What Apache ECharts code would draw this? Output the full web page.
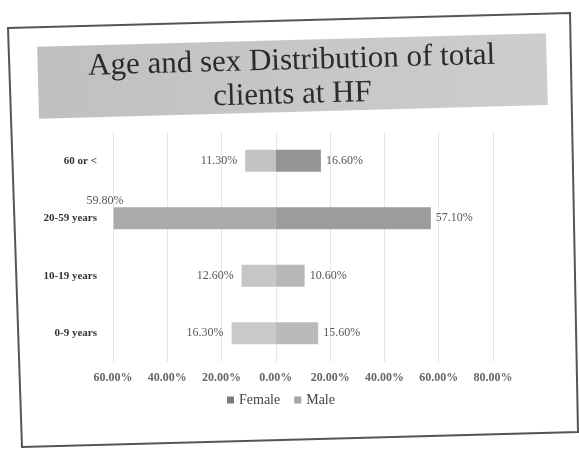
<!DOCTYPE html>
<html>
<head>
<meta charset="utf-8">
<script src="https://cdn.jsdelivr.net/npm/echarts@6/dist/echarts.min.js"></script>
<style>
html,body{margin:0;padding:0;background:#fff;}
#chart{width:579px;height:453px;}
</style>
</head>
<body>
<div id="chart"></div>
<script>
var categories = ['0-9 years', '10-19 years', '20-59 years', '60 or <'];
var femaleValues = [16.30, 12.60, 59.80, 11.30];
var maleValues = [15.60, 10.60, 57.10, 16.60];
var titleLines = ['Age and sex Distribution of total', 'clients at HF'];

var femaleColors = ['#c9c9c9', '#c6c6c6', '#ababab', '#c2c2c2'];
var maleColors = ['#bababa', '#b7b7b7', '#9c9c9c', '#959595'];

var serif = '"Liberation Serif", "Times New Roman", serif';
var chart = echarts.init(document.getElementById('chart'), null, {renderer: 'canvas'});

var femaleData = femaleValues.map(function (v, i) {
  var item = {value: -v};
  if (categories[i] === '20-59 years') {
    item.label = {position: 'left', distance: 5, offset: [15, -17]};
  }
  return item;
});

chart.setOption({
  backgroundColor: '#ffffff',
  animation: false,
  color: ['#7a7a7a', '#a5a5a5'],
  grid: {left: 113, right: 86, top: 132, bottom: 91},
  legend: {
    data: [
      {name: 'Female', itemStyle: {color: '#7a7a7a'}},
      {name: 'Male', itemStyle: {color: '#a5a5a5'}}
    ],
    left: 222, top: 388,
    icon: 'rect', itemWidth: 7, itemHeight: 7, itemGap: 14,
    textStyle: {fontFamily: serif, fontSize: 14, color: '#444'}
  },
  xAxis: {
    type: 'value', min: -60, max: 80, interval: 20,
    axisLine: {show: false}, axisTick: {show: false},
    splitLine: {show: true, lineStyle: {color: '#e6e6e6', width: 1}},
    axisLabel: {
      margin: 10, fontFamily: serif, fontSize: 12, fontWeight: 'bold', color: '#666',
      formatter: function (v) { return Math.abs(v).toFixed(2) + '%'; }
    }
  },
  yAxis: {
    type: 'category', data: categories,
    axisLine: {show: false}, axisTick: {show: false},
    axisLabel: {margin: 16, fontFamily: serif, fontSize: 11, fontWeight: 'bold', color: '#333'}
  },
  series: [
    {
      name: 'Female', type: 'bar', data: femaleData, barWidth: 22, barGap: '-100%',
      itemStyle: {color: function (p) { return femaleColors[p.dataIndex]; }},
      label: {
        show: true, position: 'left', distance: 8,
        fontFamily: serif, fontSize: 12, color: '#555',
        formatter: function (p) { return Math.abs(p.value).toFixed(2) + '%'; }
      }
    },
    {
      name: 'Male', type: 'bar', data: maleValues, barWidth: 22, barGap: '-100%',
      itemStyle: {color: function (p) { return maleColors[p.dataIndex]; }},
      label: {
        show: true, position: 'right', distance: 5,
        fontFamily: serif, fontSize: 12, color: '#555',
        formatter: function (p) { return Number(p.value).toFixed(2) + '%'; }
      }
    }
  ],
  graphic: [
    {
      type: 'polygon', silent: true,
      shape: {points: [[8, 28], [570, 13], [578, 432], [22, 447]]},
      style: {fill: 'none', stroke: '#555', lineWidth: 2}
    },
    {
      type: 'group', rotation: 0.027, originX: 292, originY: 76,
      children: [
        {
          type: 'rect', shape: {x: 38, y: 40, width: 509, height: 72},
          style: {fill: new echarts.graphic.LinearGradient(0, 0, 1, 0, [
            {offset: 0, color: '#c0c0c0'}, {offset: 1, color: '#cdcdcd'}])}
        },
        {
          type: 'text', x: 292, y: 61,
          style: {text: titleLines[0], fontFamily: serif, fontSize: 31, fill: '#2b2b2b',
                  align: 'center', verticalAlign: 'middle'}
        },
        {
          type: 'text', x: 292, y: 95,
          style: {text: titleLines[1], fontFamily: serif, fontSize: 31, fill: '#2b2b2b',
                  align: 'center', verticalAlign: 'middle'}
        }
      ]
    }
  ]
});
</script>
</body>
</html>
